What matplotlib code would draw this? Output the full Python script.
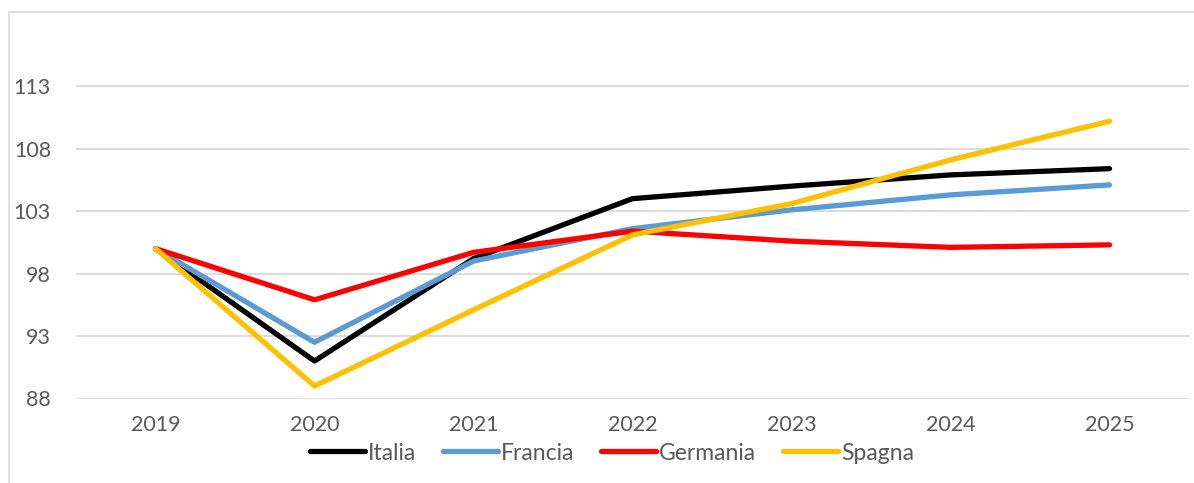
import matplotlib.pyplot as plt
import matplotlib.patches as patches
import numpy as np

# dati (indice 2019 = 100)
anni = ["2019", "2020", "2021", "2022", "2023", "2024", "2025"]
italia = [100, 91.0, 99.2, 104.0, 105.0, 105.9, 106.4]
francia = [100, 92.5, 99.0, 101.6, 103.1, 104.3, 105.1]
germania = [100, 95.9, 99.7, 101.4, 100.6, 100.1, 100.3]
spagna = [100, 89.0, 95.1, 101.1, 103.6, 107.1, 110.2]

serie = [
    ("Italia", italia, "#000000"),
    ("Francia", francia, "#5B9BD5"),
    ("Germania", germania, "#FF0000"),
    ("Spagna", spagna, "#FFC000"),
]

plt.rcParams["font.family"] = ["Lato", "DejaVu Sans"]
testo = "#595959"

fig = plt.figure(figsize=(11.94, 4.83), dpi=100)
ax = fig.add_axes([76 / 1194, 84.5 / 483, (1189 - 76) / 1194, 368.5 / 483])

x = np.arange(len(anni))
for nome, valori, colore in serie:
    ax.plot(x, valori, color=colore, lw=3.8, label=nome,
            solid_capstyle="round", solid_joinstyle="round")

ax.set_xlim(-0.5, len(anni) - 0.5)
ax.set_ylim(88, 117.5)
ax.set_yticks(np.arange(88, 114, 5))
ax.set_xticks(x)
ax.set_xticklabels(anni)
ax.tick_params(axis="both", length=0, labelsize=15.5, colors=testo)
ax.tick_params(axis="y", pad=18)
ax.tick_params(axis="x", pad=12)
ax.grid(axis="y", color="#D9D9D9", lw=1.3)
ax.set_axisbelow(True)
for s in ax.spines.values():
    s.set_visible(False)

# legenda sotto il grafico
fig.legend(*ax.get_legend_handles_labels(), loc="center",
           bbox_to_anchor=(612 / 1194, 30 / 483), ncol=4, frameon=False,
           fontsize=16.5, handlelength=2.4, handletextpad=0.15, columnspacing=1.15,
           labelcolor=testo)

# cornice del grafico
fig.patches.append(patches.Rectangle((9 / 1194, -0.01), 1.2, 1 - 12 / 483 + 0.01,
                                     transform=fig.transFigure, fill=False,
                                     edgecolor="#D9D9D9", lw=1.2))

plt.savefig("out.png", dpi=100)
